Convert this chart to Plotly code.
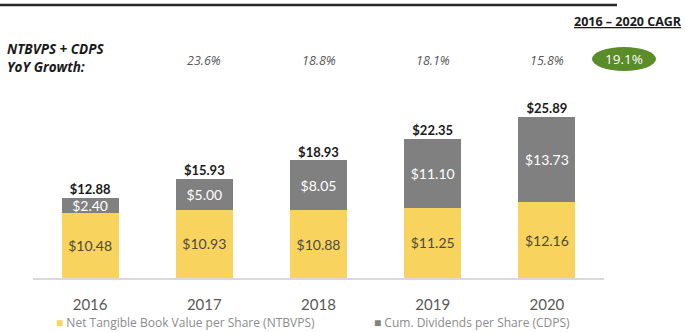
import plotly.graph_objects as go

# Per-share values, 2016-2020
years = ["2016", "2017", "2018", "2019", "2020"]
ntbvps = [10.48, 10.93, 10.88, 11.25, 12.16]
cdps = [2.40, 5.00, 8.05, 11.10, 13.73]
totals = [12.88, 15.93, 18.93, 22.35, 25.89]
yoy_growth = ["23.6%", "18.8%", "18.1%", "15.8%"]
cagr_label = "19.1%"
series_names = ["Net Tangible Book Value per Share (NTBVPS)", "Cum. Dividends per Share (CDPS)"]

W, H = 685, 332
L, R, T, B = 33, 81, 91, 54
YMAX = 30

YELLOW = "#F8D35E"
GRAY = "#808080"
GREEN = "#5B8C2A"
FONT = "Lato"
WIDE = "Open Sans"


def px_x(px):
    return (px - L) / (W - L - R)


def px_y(py):
    return (H - B - py) / (H - T - B)


def cat_x(i):
    # paper-x of a category centre on the [-0.5, 4.5] axis
    return (i + 0.5) / len(years)


fig = go.Figure()
fig.add_trace(go.Bar(
    x=years, y=ntbvps, name=series_names[0],
    marker=dict(color=YELLOW, line=dict(width=0)),
    texttemplate="$%{y:.2f}", textposition="inside", insidetextanchor="middle",
    textfont=dict(family=FONT, size=14, color="#4D4A40"),
))
fig.add_trace(go.Bar(
    x=years, y=cdps, name=series_names[1],
    marker=dict(color=GRAY, line=dict(width=0)),
    texttemplate="$%{y:.2f}", textposition="inside", insidetextanchor="middle",
    textfont=dict(family=FONT, size=14, color="white"),
))
fig.add_trace(go.Scatter(
    x=years, y=totals, mode="text", showlegend=False,
    text=[f"<b>${v:.2f}</b>" for v in totals], textposition="top center",
    textfont=dict(family=FONT, size=13, color="#1A1A1A"),
    hoverinfo="skip",
))

annotations = [
    dict(text="<b><i>NTBVPS + CDPS<br>YoY Growth:</i></b>", xref="paper", yref="paper",
         x=px_x(5), y=px_y(58), xanchor="left", yanchor="middle", align="left",
         showarrow=False, font=dict(family=WIDE, size=13.5, color="#1A1A1A")),
    dict(text="<b><u>2016 – 2020 CAGR</u></b>", xref="paper", yref="paper",
         x=px_x(684), y=px_y(21), xanchor="right", yanchor="middle",
         showarrow=False, font=dict(family=WIDE, size=12.5, color="#1A1A1A")),
    dict(text=cagr_label, xref="paper", yref="paper",
         x=px_x(624), y=px_y(59), xanchor="center", yanchor="middle",
         showarrow=False, font=dict(family=WIDE, size=13.5, color="white")),
]
for i, g in enumerate(yoy_growth, start=1):
    annotations.append(dict(
        text=f"<i>{g}</i>", xref="paper", yref="paper", x=cat_x(i), y=px_y(60),
        xanchor="center", yanchor="middle", showarrow=False,
        font=dict(family=WIDE, size=12.5, color="#595959")))

# legend row: coloured square + series name
legend_items = [(series_names[0], YELLOW, 54), (series_names[1], GRAY, 372)]
for name, color, x0 in legend_items:
    annotations.append(dict(
        text=f"<span style='color:{color}'>■</span> {name}", xref="paper", yref="paper",
        x=px_x(x0), y=px_y(322), xanchor="left", yanchor="middle", showarrow=False,
        font=dict(family=WIDE, size=12, color="#8C8C8C")))

shapes = [
    dict(type="line", xref="paper", yref="paper", x0=px_x(0), x1=px_x(617),
         y0=px_y(5), y1=px_y(5), line=dict(color="#262626", width=2.5)),
    dict(type="circle", xref="paper", yref="paper", x0=px_x(592), x1=px_x(656),
         y0=px_y(71), y1=px_y(47), fillcolor=GREEN, line=dict(width=0), layer="below"),
]

fig.update_layout(
    width=W, height=H, margin=dict(l=L, r=R, t=T, b=B, autoexpand=False),
    barmode="stack", bargap=0.5,
    plot_bgcolor="white", paper_bgcolor="white",
    font=dict(family=FONT, color="#595959"),
    showlegend=False,
    uniformtext=dict(minsize=13, mode="show"),
    annotations=annotations, shapes=shapes,
)
fig.update_xaxes(showline=True, linecolor="#D9D9D9", linewidth=2, showgrid=False,
                 ticks="", ticklabelstandoff=12, tickfont=dict(family=FONT, size=15, color="#595959"),
                 range=[-0.5, 4.5])
fig.update_yaxes(visible=False, range=[0, YMAX])

fig.write_html("out.html")
